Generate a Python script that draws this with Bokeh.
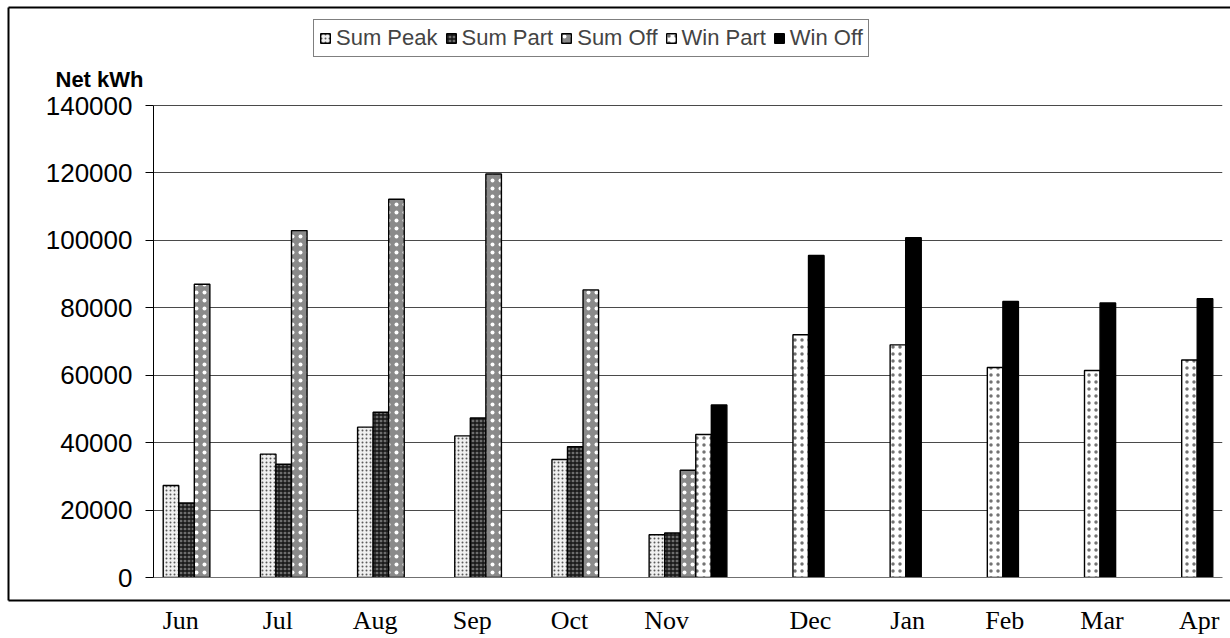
from bokeh.plotting import figure
from bokeh.models import (Range1d, FixedTicker, BasicTickFormatter, CustomJSTickFormatter,
                          Legend, LegendItem)
from bokeh.core.properties import value
from bokeh.embed import file_html
from bokeh.resources import INLINE

# ---- data -------------------------------------------------------------
months = ["Jun", "Jul", "Aug", "Sep", "Oct", "Nov", "Dec", "Jan", "Feb", "Mar", "Apr"]
sum_peak = [27300, 36600, 44600, 42000, 35000, 12700, None, None, None, None, None]
sum_part = [22100, 33600, 49000, 47300, 38800, 13200, None, None, None, None, None]
sum_off = [87000, 102900, 112200, 119700, 85300, 31800, None, None, None, None, None]
win_part = [None, None, None, None, None, 42400, 72000, 69000, 62300, 61400, 64500]
win_off = [None, None, None, None, None, 51200, 95500, 100800, 81900, 81400, 82700]
series_names = ["Sum Peak", "Sum Part", "Sum Off", "Win Part", "Win Off"]
y_ticks = [0, 20000, 40000, 60000, 80000, 100000, 120000, 140000]
y_title = "Net kWh"

series_values = [sum_peak, sum_part, sum_off, win_part, win_off]

# ---- layout (pixels) --------------------------------------------------
W, H = 1230, 638
FL, FR, FB = 153, 1222, 577        # frame left / right / bottom (frame reaches the top edge)
AXIS_TOP = 105                     # pixel row of the top tick (140000)
NCAT = len(months)
XS = (FR - FL) / NCAT              # px per category
YS = max(y_ticks) / (FB - AXIS_TOP)  # data units per px


def dx(px):
    return (px - FL) / XS


def dy(py):
    return (FB - py) * YS


# ---- styles -----------------------------------------------------------
styles = [
    dict(fill_color="#f0f0f0", hatch_pattern="dot", hatch_color="#5a5a5a", hatch_scale=4, hatch_weight=1),
    dict(fill_color="#6e6e6e", hatch_pattern="cross", hatch_color="#141414", hatch_scale=4, hatch_weight=1.3),
    dict(fill_color="#8a8a8a", hatch_pattern="dot", hatch_color="#ffffff", hatch_scale=8, hatch_weight=1.8),
    dict(fill_color="#ffffff", hatch_pattern="dot", hatch_color="#444444", hatch_alpha=0.75,
         hatch_scale=7, hatch_weight=0.5),
    dict(fill_color="#000000"),
]
SANS = "Liberation Sans"
SERIF = "Liberation Serif"

p = figure(width=W, height=H,
           x_range=Range1d(0, NCAT), y_range=Range1d(0, dy(0)),
           output_backend="svg", toolbar_location=None,
           min_border_left=FL, min_border_right=W - FR, min_border_top=0, min_border_bottom=H - FB)
p.outline_line_color = None
p.background_fill_color = "white"
p.border_fill_color = "white"
p.xgrid.visible = False

# y axis (line limited to the tick span)
p.yaxis.bounds = (0, max(y_ticks))
p.yaxis.ticker = FixedTicker(ticks=y_ticks)
p.yaxis.formatter = BasicTickFormatter(use_scientific=False)
p.yaxis.major_label_text_font = SANS
p.yaxis.major_label_text_font_size = "26px"
p.yaxis.major_label_text_color = "black"
p.yaxis.major_tick_out = 8
p.yaxis.major_tick_in = 0
p.yaxis.minor_tick_out = 0
p.yaxis.minor_tick_in = 0
p.yaxis.major_label_standoff = 13
p.yaxis.axis_line_color = "black"
p.yaxis.major_tick_line_color = "black"
p.ygrid.ticker = FixedTicker(ticks=y_ticks)
p.ygrid.grid_line_color = "#4a4a4a"
p.ygrid.grid_line_width = 1

# x axis: month names centred under each month's bar cluster
label_x = [i + 0.5 + (-0.22 if sum_off[i] is not None else 0.26) for i in range(NCAT)]
p.xaxis.ticker = FixedTicker(ticks=label_x)
p.xaxis.formatter = CustomJSTickFormatter(args=dict(names=months),
                                          code="return names[Math.round(tick - 0.5)]")
p.xaxis.major_label_text_font = SERIF
p.xaxis.major_label_text_font_size = "26px"
p.xaxis.major_label_text_color = "black"
p.xaxis.major_tick_out = 0
p.xaxis.major_tick_in = 0
p.xaxis.minor_tick_out = 0
p.xaxis.minor_tick_in = 0
p.xaxis.major_label_standoff = 28
p.xaxis.axis_line_color = "#707070"

# bars
bw = 0.16
items = []
for j, (name, vals, st) in enumerate(zip(series_names, series_values, styles)):
    xs = [i + 0.5 + (j - 2) * bw for i, v in enumerate(vals) if v is not None]
    tops = [v for v in vals if v is not None]
    r = p.vbar(x=xs, top=tops, width=bw, line_color="black", line_width=1.4, **st)
    items.append(LegendItem(label=name, renderers=[r]))

legend = Legend(items=items, orientation="horizontal", location=(313 - FL, FB - 57),
                label_text_font=SANS, label_text_font_size="22px",
                glyph_width=12, glyph_height=12, label_standoff=5, spacing=7,
                padding=5, margin=0, border_line_color="black", border_line_width=1,
                background_fill_color="white", background_fill_alpha=1)
p.add_layout(legend, "center")

# y-axis title (left of the frame)
p.text(x=[dx(55)], y=[dy(79)], text=[y_title], text_font=value(SANS), text_font_size="22px",
       text_font_style="bold", text_baseline="alphabetic", text_align="left", level="overlay")

# outer border (left, top, bottom; right edge lies beyond the picture)
p.segment(x0=[dx(8), dx(8), dx(8)], y0=[dy(7), dy(7), dy(600)],
          x1=[dx(8), dx(W + 20), dx(W + 20)], y1=[dy(600), dy(7), dy(600)],
          line_color="black", line_width=2, level="overlay")

open("out.html", "w").write(file_html(p, INLINE))
